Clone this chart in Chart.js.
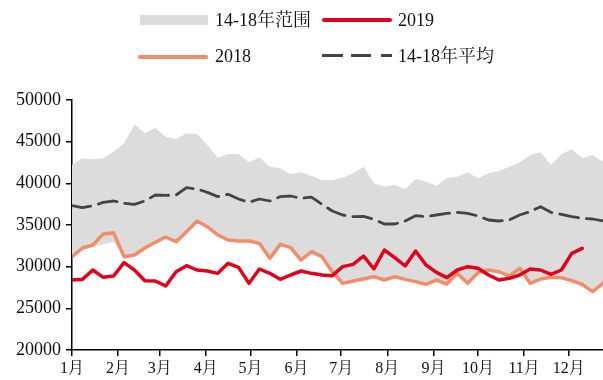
<!DOCTYPE html>
<html>
<head>
<meta charset="utf-8">
<script src="https://cdn.jsdelivr.net/npm/chart.js@4"></script>
<style>
  html, body { margin: 0; padding: 0; background: #fff; }
  #wrap { position: relative; width: 603px; height: 380px; }
  #wrap canvas { position: absolute; left: 0; top: 0; }
  .lg { position: absolute; font-family: "Liberation Serif", "Noto Serif CJK SC", "Noto Sans CJK SC", serif; font-size: 18px; color: #111; line-height: 20px; white-space: nowrap; }
  .sw { position: absolute; }
</style>
</head>
<body>
<div id="wrap">
  <canvas id="priceChart" width="603" height="380"></canvas>
  <div class="sw" style="left:140px;top:15px;width:68px;height:10px;background:#dcdcdc"></div>
  <div class="lg" style="left:215px;top:10px">14-18年范围</div>
  <div class="sw" style="left:322px;top:18px;width:70px;height:4px;border-radius:2px;background:#e0001b"></div>
  <div class="lg" style="left:398px;top:10px">2019</div>
  <div class="sw" style="left:138px;top:55px;width:70px;height:4px;border-radius:2px;background:#f28c6a"></div>
  <div class="lg" style="left:215px;top:46px">2018</div>
  <div class="sw" style="left:322px;top:54px;width:21px;height:3px;background:#444"></div>
  <div class="sw" style="left:351px;top:54px;width:20px;height:3px;background:#444"></div>
  <div class="sw" style="left:381px;top:54px;width:11px;height:3px;background:#444"></div>
  <div class="lg" style="left:398px;top:46px">14-18年平均</div>
</div>
<script>
// day of year for each weekly point
const weekDays = [0, 7, 14, 21, 28, 35, 42, 49, 56, 63, 70, 77, 84, 91, 98, 105, 112, 119, 126,
  133, 140, 147, 154, 161, 168, 175, 182, 189, 196, 203, 210, 217, 224, 231, 238, 245, 252,
  259, 266, 273, 280, 287, 294, 301, 308, 315, 322, 329, 336, 343, 350, 357];

const monthStarts = [0, 31, 59, 90, 120, 151, 181, 212, 243, 273, 304, 334];
const monthLabels = ['1月', '2月', '3月', '4月', '5月', '6月', '7月', '8月', '9月', '10月', '11月', '12月'];

const rangeHigh = [42200, 43000, 42880, 43000, 43800, 44800, 47080, 46000, 46680, 45600, 45320, 46000,
  45920, 44600, 43080, 43520, 43480, 42520, 43120, 42000, 41800, 41080, 41320, 40880, 40400, 40400,
  40680, 41200, 42000, 40000, 39600, 39800, 39320, 40520, 40200, 39720, 40600, 40800, 41320, 40600,
  41200, 41480, 42000, 42520, 43400, 43720, 42200, 43480, 44080, 43000, 43400, 42600];

const rangeLow = [31200, 32000, 32400, 32700, 32950, 31200, 31400, 32240, 32920, 33560, 33000, 34200,
  35480, 34800, 33800, 33200, 33080, 33080, 32800, 31000, 32680, 32280, 30800, 31800, 31200, 29400,
  28000, 28280, 28520, 28800, 28400, 28800, 28480, 28200, 27880, 28400, 27920, 29200, 28000, 29280,
  29600, 29400, 28880, 29800, 28000, 28520, 28720, 28680, 28320, 27880, 27000, 28000];

const avg1418 = [37320, 37080, 37300, 37720, 37880, 37600, 37480, 37880, 38600, 38560, 38600, 39480,
  39320, 38920, 38400, 38680, 38120, 37720, 38120, 37880, 38400, 38480, 38200, 38350, 37480, 36680,
  36200, 36000, 36040, 35680, 35120, 35120, 35480, 36120, 36000, 36200, 36400, 36520, 36400, 36080,
  35600, 35480, 35600, 36200, 36600, 37200, 36520, 36280, 36000, 35800, 35720, 35480];

const y2018 = [31200, 32240, 32600, 33920, 34040, 31200, 31400, 32240, 32920, 33560, 33000, 34200,
  35480, 34800, 33800, 33200, 33080, 33080, 32800, 31000, 32680, 32280, 30800, 31800, 31200, 29400,
  28000, 28280, 28520, 28800, 28400, 28800, 28480, 28200, 27880, 28400, 27920, 29200, 28000, 29280,
  29600, 29400, 28880, 29800, 28000, 28520, 28720, 28680, 28320, 27880, 27000, 28000];

const y2019 = [28400, 28480, 29600, 28720, 28880, 30480, 29600, 28320, 28280, 27680, 29400, 30120,
  29600, 29480, 29200, 30400, 29920, 28000, 29720, 29200, 28480, 29000, 29480, 29200, 29000, 28920,
  30000, 30280, 31280, 29720, 32000, 31080, 30080, 31880, 30200, 29320, 28680, 29600, 30000, 29800,
  29000, 28400, 28600, 29000, 29720, 29600, 29080, 29600, 31600, 32200];

const pts = arr => arr.map((v, i) => ({ x: weekDays[i], y: v }));

const fontFamily = '"Liberation Serif", "Noto Serif CJK SC", "Noto Sans CJK SC", serif';

new Chart(document.getElementById('priceChart'), {
  type: 'line',
  data: {
    datasets: [
      { label: '2019', data: pts(y2019), borderColor: '#e0001b', borderWidth: 3.5, pointRadius: 0, fill: false },
      { label: '2018', data: pts(y2018), borderColor: '#f28c6a', borderWidth: 3.5, pointRadius: 0, fill: false },
      { label: '14-18年平均', data: pts(avg1418), borderColor: '#444', borderWidth: 2.8, borderDash: [19, 8], pointRadius: 0, fill: false },
      { label: '14-18年范围', data: pts(rangeHigh), borderWidth: 0, borderColor: 'rgba(0,0,0,0)', backgroundColor: '#dcdcdc', pointRadius: 0, fill: '+1' },
      { label: 'low', data: pts(rangeLow), borderWidth: 0, borderColor: 'rgba(0,0,0,0)', pointRadius: 0, fill: false }
    ]
  },
  options: {
    responsive: false,
    animation: false,
    layout: { padding: { top: 100, right: 0, left: 0, bottom: 0 } },
    plugins: { legend: { display: false }, tooltip: { enabled: false } },
    elements: { line: { tension: 0, borderJoinStyle: 'round', borderCapStyle: 'round' } },
    scales: {
      x: {
        type: 'linear',
        min: 0,
        max: 357,
        afterBuildTicks: scale => { scale.ticks = monthStarts.map(v => ({ value: v })); },
        afterFit: scale => { scale.height = 30; },
        ticks: {
          autoSkip: false,
          maxRotation: 0,
          padding: 3,
          color: '#111',
          font: { family: fontFamily, size: 16 },
          callback: v => monthLabels[monthStarts.indexOf(v)]
        },
        grid: { drawOnChartArea: false, drawTicks: true, tickLength: 6, color: '#000', lineWidth: 1.5 },
        border: { display: true, color: '#000', width: 1.5 }
      },
      y: {
        min: 20000,
        max: 50000,
        afterFit: scale => { scale.width = 72; },
        ticks: {
          stepSize: 5000,
          padding: 5,
          color: '#111',
          font: { family: fontFamily, size: 18 },
          callback: v => String(v)
        },
        grid: { drawOnChartArea: false, drawTicks: true, tickLength: 6, color: '#000', lineWidth: 1.5 },
        border: { display: true, color: '#000', width: 1.5 }
      }
    }
  }
});
</script>
</body>
</html>
